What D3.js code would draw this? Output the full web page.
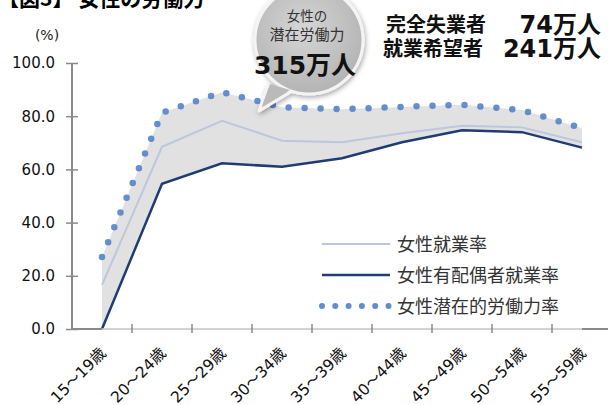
<!DOCTYPE html>
<html>
<head>
<meta charset="utf-8">
<script src="https://cdn.jsdelivr.net/npm/d3@7"></script>
<style>
  body { margin: 0; background: #fff; }
  svg { display: block; }
  text { font-family: "DejaVu Sans", "Noto Sans CJK JP", sans-serif; }
  .jp { font-family: "Noto Sans CJK JP", sans-serif; }
</style>
</head>
<body>
<div id="chart"></div>
<script>
let width = 609;
let height = 405;

// data
let ages = ["15～19歳","20～24歳","25～29歳","30～34歳","35～39歳","40～44歳","45～49歳","50～54歳","55～59歳"];
let employed = [16.6, 68.5, 78.3, 70.8, 70.2, 73.6, 76.4, 75.8, 70.2];       // 女性就業率
let marriedEmployed = [0, 54.6, 62.3, 61.0, 64.2, 70.2, 74.7, 74.0, 68.2]; // 女性有配偶者就業率
let potential = [27.1, 81.3, 89.0, 83.4, 82.6, 83.5, 84.3, 82.3, 75.5];    // 女性潜在的労働力率
let yTicks = [0, 20, 40, 60, 80, 100];
let seriesNames = ["女性就業率", "女性有配偶者就業率", "女性潜在的労働力率"];

let svg = d3.select("#chart").append("svg")
            .attr("width", width)
            .attr("height", height);

let defs = svg.append("defs");
let shadow = defs.append("filter").attr("id", "shadow")
                 .attr("x", "-30%").attr("y", "-30%").attr("width", "160%").attr("height", "160%");
shadow.append("feDropShadow").attr("dx", 1).attr("dy", 2).attr("stdDeviation", 2.5)
      .attr("flood-color", "#000").attr("flood-opacity", 0.35);
let grad = defs.append("radialGradient").attr("id", "bubbleFill")
               .attr("cx", "45%").attr("cy", "40%").attr("r", "60%");
grad.append("stop").attr("offset", "0%").attr("stop-color", "#d6d6d6");
grad.append("stop").attr("offset", "100%").attr("stop-color", "#b4b4b4");

let x = d3.scaleBand().domain(ages).range([72, 612]);
let y = d3.scaleLinear().domain([0, 100]).range([329, 63]);
let cx = d => x(d) + x.bandwidth() / 2;

//title, cut off at the top
svg.append("text").attr("class", "jp")
   .attr("x", -2).attr("y", 6)
   .attr("font-size", 21).attr("font-weight", "bold")
   .text("【図3】 女性の労働力");

//shaded band between potential and married lines
let area = d3.area()
             .x((d, i) => cx(ages[i]))
             .y0((d, i) => y(marriedEmployed[i]))
             .y1(d => y(d));
svg.append("path")
   .datum(potential)
   .attr("d", area)
   .attr("fill", "#e1e1e1");

let line = d3.line().x((d, i) => cx(ages[i])).y(d => y(d));

svg.append("path").datum(employed)
   .attr("d", line).attr("fill", "none")
   .attr("stroke", "#bcc7de").attr("stroke-width", 2);

svg.append("path").datum(marriedEmployed)
   .attr("d", line).attr("fill", "none")
   .attr("stroke", "#1f3d70").attr("stroke-width", 2.5);

svg.append("path").datum(potential)
   .attr("d", line).attr("fill", "none")
   .attr("stroke", "#4f81c9").attr("stroke-opacity", 0.88)
   .attr("stroke-width", 6.5)
   .attr("stroke-linecap", "round")
   .attr("stroke-dasharray", "0,16");

//y axis
let yAxis = svg.append("g")
   .attr("transform", "translate(72,0)")
   .call(d3.axisLeft(y).tickValues(yTicks).tickFormat(d3.format(".1f"))
           .tickSize(6).tickPadding(11));
yAxis.select(".domain").attr("stroke", "#8a8a8a").attr("stroke-width", 2)
     .attr("d", "M0," + y(100) + "V" + y(0));
yAxis.selectAll(".tick line").attr("x1", 6).attr("stroke", "#8a8a8a").attr("stroke-width", 1.5);
yAxis.selectAll(".tick text").attr("font-size", 15).attr("fill", "#111")
     .attr("font-family", "DejaVu Sans");

svg.append("text")
   .attr("x", 47).attr("y", 40)
   .attr("text-anchor", "middle")
   .attr("font-size", 14).attr("fill", "#222")
   .text("(%)");

//x axis
svg.append("line")
   .attr("x1", 72).attr("x2", 608).attr("y1", y(0)).attr("y2", y(0))
   .attr("stroke", "#c4c4c4").attr("stroke-width", 1.5);
svg.append("line")
   .attr("x1", 72).attr("x2", cx(ages[0])).attr("y1", y(0)).attr("y2", y(0))
   .attr("stroke", "#8a8a8a").attr("stroke-width", 2);
svg.append("line")
   .attr("x1", cx(ages[ages.length - 1])).attr("x2", 608).attr("y1", y(0)).attr("y2", y(0))
   .attr("stroke", "#8a8a8a").attr("stroke-width", 2);
svg.selectAll(".xtick")
   .data(ages.slice(1))
   .enter().append("line")
   .attr("class", "xtick")
   .attr("x1", d => x(d)).attr("x2", d => x(d))
   .attr("y1", y(0) - 5).attr("y2", y(0) + 4)
   .attr("stroke", "#8a8a8a").attr("stroke-width", 1.5);

svg.selectAll(".xlabel")
   .data(ages)
   .enter().append("text")
   .attr("class", "xlabel")
   .attr("transform", d => "translate(" + (cx(d) + 5) + "," + (y(0) + 25) + ") rotate(-45)")
   .attr("text-anchor", "end")
   .attr("font-size", 15.5).attr("fill", "#111")
   .text(d => d);

//legend
let legendY = [244, 275, 306];
let legend = svg.append("g");
legend.append("line").attr("x1", 322).attr("x2", 390).attr("y1", legendY[0]).attr("y2", legendY[0])
      .attr("stroke", "#bcc7de").attr("stroke-width", 2);
legend.append("line").attr("x1", 322).attr("x2", 390).attr("y1", legendY[1]).attr("y2", legendY[1])
      .attr("stroke", "#1f3d70").attr("stroke-width", 2.5);
legend.append("line").attr("x1", 322).attr("x2", 392).attr("y1", legendY[2]).attr("y2", legendY[2])
      .attr("stroke", "#4f81c9").attr("stroke-opacity", 0.9)
      .attr("stroke-width", 6).attr("stroke-linecap", "round")
      .attr("stroke-dasharray", "0,13.3");
legend.selectAll("text")
      .data(seriesNames)
      .enter().append("text")
      .attr("class", "jp")
      .attr("x", 397)
      .attr("y", (d, i) => legendY[i] + 6.5)
      .attr("font-size", 18).attr("fill", "#333")
      .text(d => d);

//speech bubble
let bubble = svg.append("g").attr("filter", "url(#shadow)");
bubble.append("path")
      .attr("d", "M268,86 L259,111 L292,91 Z")
      .attr("fill", "#bdbdbd").attr("stroke", "#f4f4f4").attr("stroke-width", 3)
      .attr("stroke-linejoin", "round");
bubble.append("circle")
      .attr("cx", 309).attr("cy", 40).attr("r", 54)
      .attr("fill", "url(#bubbleFill)").attr("stroke", "#f4f4f4").attr("stroke-width", 3);
svg.append("path")
      .attr("d", "M270,84 L262,106 L290,90 Z")
      .attr("fill", "#bababa");

svg.append("text").attr("class", "jp")
   .attr("x", 307).attr("y", 21).attr("text-anchor", "middle")
   .attr("font-size", 13.5).attr("fill", "#333")
   .text("女性の");
svg.append("text").attr("class", "jp")
   .attr("x", 307).attr("y", 40).attr("text-anchor", "middle")
   .attr("font-size", 15).attr("fill", "#333")
   .text("潜在労働力");
svg.append("text")
   .attr("x", 305).attr("y", 74).attr("text-anchor", "middle")
   .attr("font-size", 25).attr("font-weight", "bold").attr("fill", "#111")
   .text("315万人");

//numbers at the top right
let summaryLabels = ["完全失業者", "就業希望者"];
let summaryValues = ["74万人", "241万人"];
let summaryY = [32, 56];
svg.selectAll(".sumlabel")
   .data(summaryLabels)
   .enter().append("text")
   .attr("class", "sumlabel jp")
   .attr("x", (d, i) => i == 0 ? 386 : 383)
   .attr("y", (d, i) => summaryY[i])
   .attr("font-size", 20).attr("font-weight", "bold").attr("fill", "#111")
   .text(d => d);
svg.selectAll(".sumvalue")
   .data(summaryValues)
   .enter().append("text")
   .attr("class", "sumvalue")
   .attr("x", 601)
   .attr("y", (d, i) => summaryY[i] + 1)
   .attr("text-anchor", "end")
   .attr("font-size", 24).attr("font-weight", "bold").attr("fill", "#111")
   .text(d => d);
</script>
</body>
</html>
